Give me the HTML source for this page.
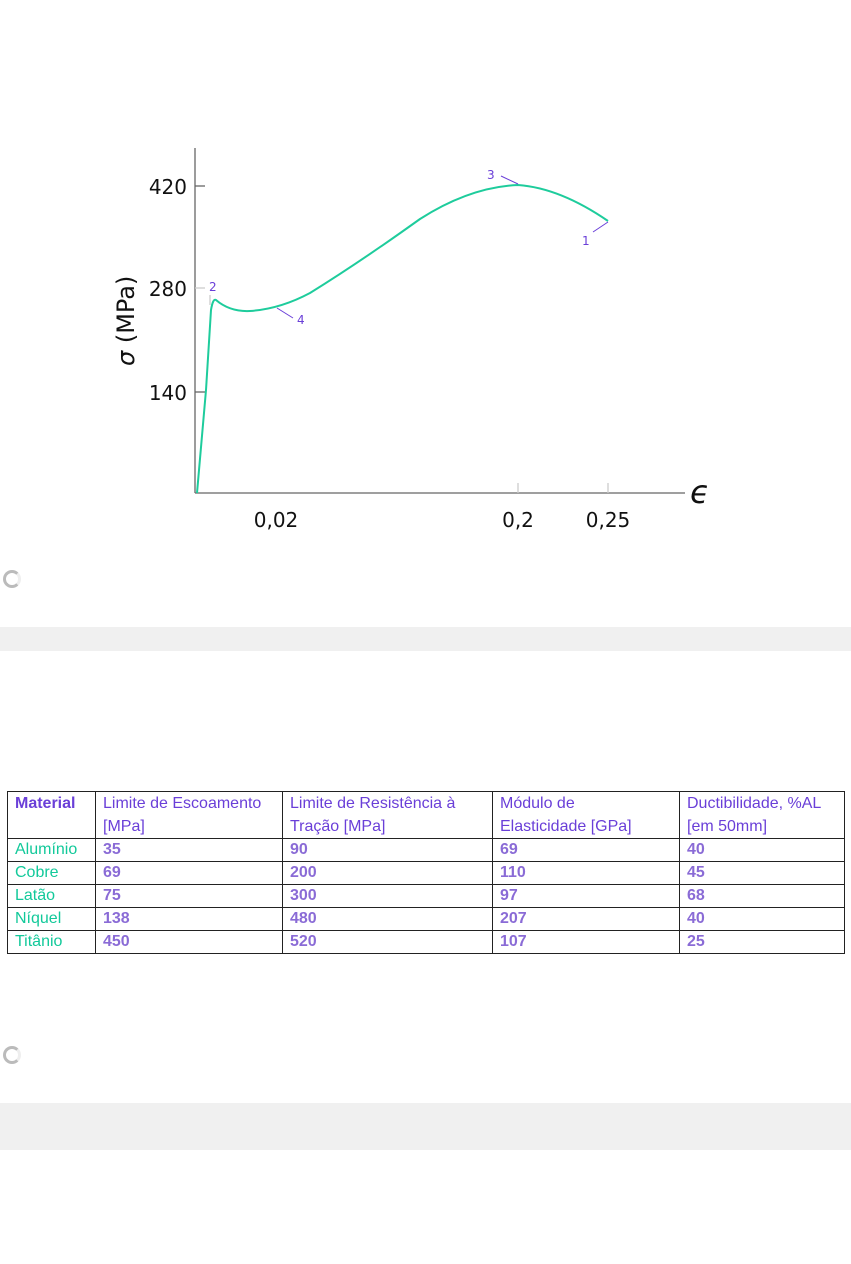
<!DOCTYPE html>
<html><head><meta charset="utf-8"><style>
body{margin:0;width:851px;height:1264px;background:#fff;position:relative;font-family:"Liberation Sans",sans-serif;overflow:hidden}
.abs{position:absolute}
table{position:absolute;left:7px;top:791px;border-collapse:collapse;font-size:16px;table-layout:fixed;width:837px}
td{border:1px solid #222;padding:0 5px 0 7px;vertical-align:top;height:22px;color:#8a6bd6;font-weight:bold;line-height:22px;overflow:hidden;white-space:nowrap}
tr.h td{color:#6a3fd8;font-weight:normal;height:46px;white-space:normal;line-height:23px}
tr.h td:first-child{font-weight:bold}
td.m{color:#12c99a;font-weight:normal}
.spin{width:12px;height:12px;border:3px solid #bbb;border-radius:50%;border-right-color:#eee}
</style></head><body>
<svg class="abs" style="left:0;top:0" width="851" height="560">
<g stroke="#666" stroke-width="1.3" fill="none">
<line x1="195" y1="148" x2="195" y2="493"/>
<line x1="195" y1="493" x2="685" y2="493"/>
<line x1="195" y1="186" x2="205" y2="186"/>
<line x1="195" y1="392" x2="205" y2="392"/>
</g>
<g stroke="#ccc" stroke-width="1.3">
<line x1="195" y1="288" x2="205" y2="288"/>
<line x1="518" y1="483" x2="518" y2="493"/>
<line x1="608" y1="483" x2="608" y2="493"/>
<line x1="210" y1="295" x2="210" y2="305"/>
</g>
<path d="M197,493 L206,390 L211,310 Q213,298 216,300 Q230,312 250,311 Q280,309 310,293 Q360,262 420,219 Q470,187 518,185 Q560,188 608,221" stroke="#1ecc9c" stroke-width="2" fill="none"/>
<g stroke="#6a3fd8" stroke-width="1">
<line x1="501" y1="176" x2="518" y2="184"/>
<line x1="593" y1="232" x2="608" y2="222"/>
<line x1="277" y1="308" x2="293" y2="318"/>
</g>
<g font-family="'DejaVu Sans',sans-serif" font-size="12" fill="#6a3fd8">
<text x="487" y="179">3</text><text x="582" y="245">1</text>
<text x="209" y="291">2</text><text x="297" y="324">4</text>
</g>
<g font-family="'DejaVu Sans',sans-serif" font-size="20" fill="#111">
<text x="187" y="194" text-anchor="end">420</text>
<text x="187" y="296" text-anchor="end">280</text>
<text x="187" y="400" text-anchor="end">140</text>
<text x="276" y="527" text-anchor="middle">0,02</text>
<text x="518" y="527" text-anchor="middle">0,2</text>
<text x="608" y="527" text-anchor="middle">0,25</text>
<text transform="translate(134,366) rotate(-90)" font-size="24"><tspan font-style="italic">σ</tspan> (MPa)</text>
<text x="690" y="503" font-size="32" font-style="italic">ϵ</text>
</g>
</svg>
<div class="abs spin" style="left:3px;top:570px"></div>
<div class="abs" style="left:0;top:627px;width:851px;height:24px;background:#f0f0f0"></div>
<table>
<colgroup><col style="width:88px"><col style="width:187px"><col style="width:210px"><col style="width:187px"><col style="width:165px"></colgroup>
<tr class="h"><td>Material</td><td>Limite de Escoamento [MPa]</td><td>Limite de Resistência à Tração [MPa]</td><td>Módulo de<br>Elasticidade [GPa]</td><td>Ductibilidade, %AL [em 50mm]</td></tr>
<tr><td class="m">Alumínio</td><td>35</td><td>90</td><td>69</td><td>40</td></tr>
<tr><td class="m">Cobre</td><td>69</td><td>200</td><td>110</td><td>45</td></tr>
<tr><td class="m">Latão</td><td>75</td><td>300</td><td>97</td><td>68</td></tr>
<tr><td class="m">Níquel</td><td>138</td><td>480</td><td>207</td><td>40</td></tr>
<tr><td class="m">Titânio</td><td>450</td><td>520</td><td>107</td><td>25</td></tr>
</table>
<div class="abs spin" style="left:3px;top:1046px"></div>
<div class="abs" style="left:0;top:1103px;width:851px;height:47px;background:#f0f0f0"></div>
</body></html>
